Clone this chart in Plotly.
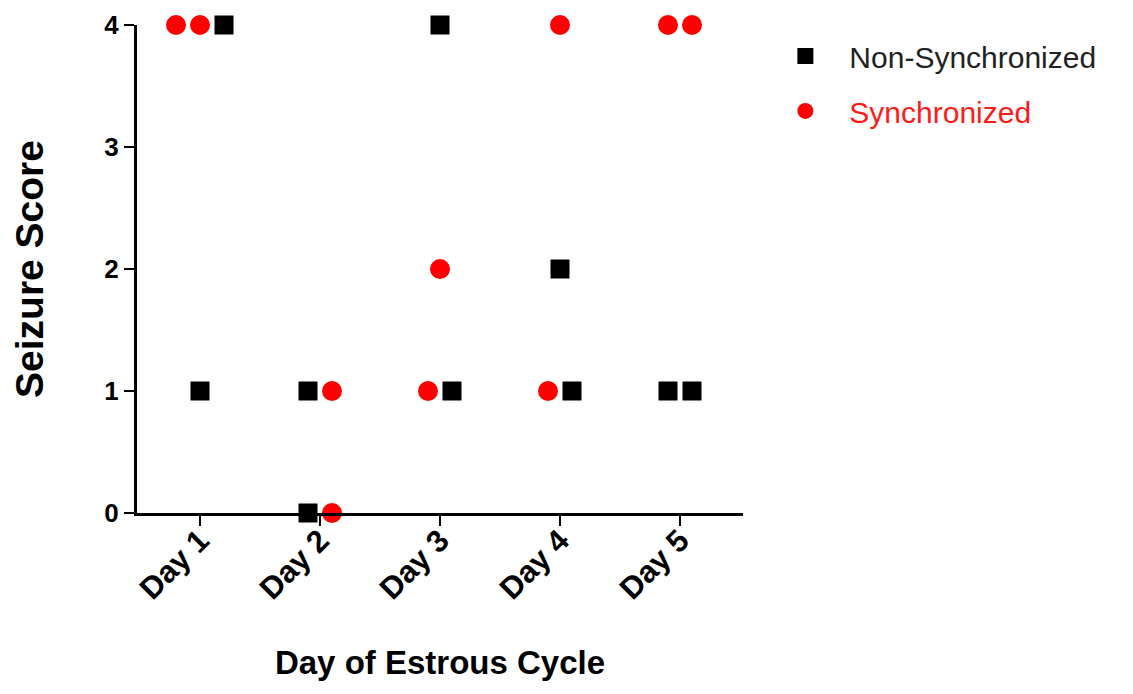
import plotly.graph_objects as go

# ---- data ----
days = ["Day 1", "Day 2", "Day 3", "Day 4", "Day 5"]
non_sync_scores = [[4, 1], [1, 0], [4, 1], [2, 1], [1, 1]]
sync_scores = [[4, 4], [1, 0], [2, 1], [4, 1], [4, 4]]
y_ticks = [0, 1, 2, 3, 4]

# which series comes first (left) when points share a score on the same day
lead_series = ["sync", "non", "sync", "sync", "sync"]

SPREAD = 0.2  # horizontal spacing (category units) between coincident points


def scatter_positions():
    """Spread coincident points (same day & score) side by side."""
    pos = {"non": ([], []), "sync": ([], [])}
    for i, day in enumerate(days):
        series = {"non": non_sync_scores[i], "sync": sync_scores[i]}
        order = [lead_series[i]] + [s for s in ("sync", "non") if s != lead_series[i]]
        groups = {}
        for s in order:
            for v in series[s]:
                groups.setdefault(v, []).append(s)
        for v, members in groups.items():
            n = len(members)
            for k, s in enumerate(members):
                pos[s][0].append(i + 1 + (k - (n - 1) / 2) * SPREAD)
                pos[s][1].append(v)
    return pos


pos = scatter_positions()

FONT = "Arial, 'Liberation Sans', Helvetica, sans-serif"

fig = go.Figure()
fig.add_trace(go.Scatter(
    x=pos["non"][0], y=pos["non"][1], mode="markers",
    name="Non-Synchronized", legendgroup="a",
    marker=dict(symbol="square", size=19, color="#000000"),
    cliponaxis=False,
))
fig.add_trace(go.Scatter(
    x=pos["sync"][0], y=pos["sync"][1], mode="markers",
    name="<span style='color:#ff1a1a'>Synchronized</span>", legendgroup="b",
    marker=dict(symbol="circle", size=20, color="#ff0000"),
    cliponaxis=False,
))

fig.update_layout(
    width=1133, height=694,
    margin=dict(l=129, r=398, t=17, b=189, autoexpand=False),
    paper_bgcolor="white", plot_bgcolor="white",
    font=dict(family=FONT, color="#000000"),
    showlegend=True,
    legend=dict(
        x=1.0303, y=0.99, xanchor="left", yanchor="top",
        font=dict(size=30, color="#222222", family=FONT),
        tracegroupgap=13, traceorder="grouped",
        itemwidth=78, bgcolor="rgba(0,0,0,0)",
    ),
    xaxis=dict(
        range=[0.475, 5.525],
        tickmode="array", tickvals=list(range(1, len(days) + 1)), ticktext=days,
        tickangle=-45,
        tickfont=dict(size=31, family=FONT, weight="bold"),
        ticklabelstandoff=-16,
        showline=True, linewidth=3, linecolor="#000000",
        ticks="outside", ticklen=10, tickwidth=2, tickcolor="#000000",
        showgrid=False, zeroline=False, automargin=False,
        title=dict(text="Day of Estrous Cycle",
                   font=dict(size=33, family=FONT, weight="bold"), standoff=46),
    ),
    yaxis=dict(
        range=[0, 4],
        tickmode="array", tickvals=y_ticks,
        tickfont=dict(size=26, family=FONT, weight="bold"),
        showline=True, linewidth=3, linecolor="#000000",
        ticks="outside", ticklen=10, tickwidth=2, tickcolor="#000000",
        showgrid=False, zeroline=False, automargin=False,
        title=dict(text="Seizure Score",
                   font=dict(size=39, family=FONT, weight="bold"), standoff=61),
    ),
)

fig.write_html("out.html")
